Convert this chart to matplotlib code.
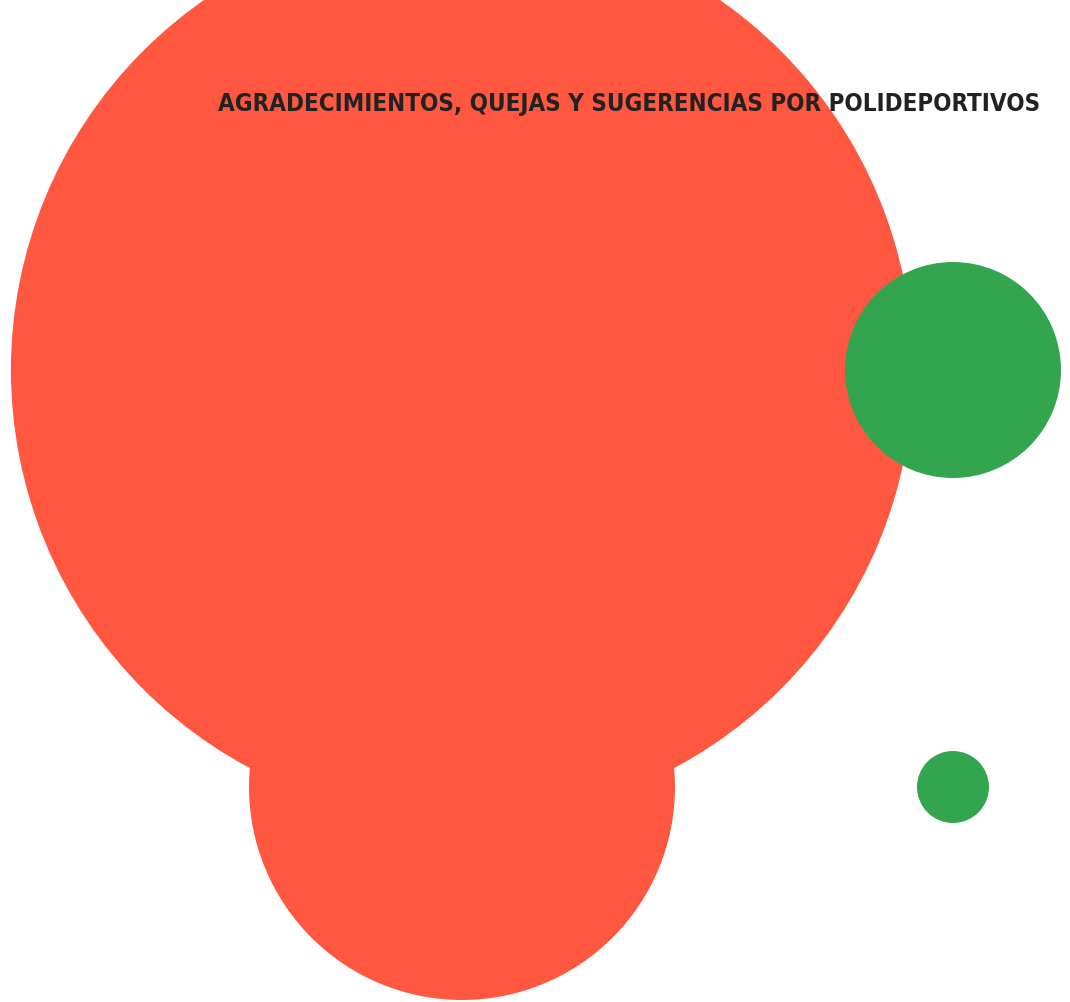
import matplotlib.pyplot as plt
import numpy as np

# bubble grid: columns = type, rows = polideportivo
tipos = ['Quejas', 'Agradecimientos']
polideportivos = ['Polideportivo 1', 'Polideportivo 2']
quejas = [157, 35]
agradecimientos = [9, 1]

colores = {'Quejas': '#FF5740', 'Agradecimientos': '#34A54F'}
titulo = 'AGRADECIMIENTOS, QUEJAS Y SUGERENCIAS POR POLIDEPORTIVOS'

W, H, DPI = 1070, 1003, 100
fig = plt.figure(figsize=(W / DPI, H / DPI), dpi=DPI)
ax = fig.add_axes([0, 0, 1, 1])

# column / row spacing in pixels
x0, dx = 462, 491
y0, dy = 371, 417
ax.set_xlim(-x0 / dx, (W - x0) / dx)
ax.set_ylim((H - y0) / dy, -y0 / dy)
ax.axis('off')

# marker area per unit value (smallest bubble -> 36 px radius)
k = (2 * 36 * 72 / DPI) ** 2
for i, (tipo, vals) in enumerate(zip(tipos, [quejas, agradecimientos])):
    xs = np.full(len(vals), i)
    ys = np.arange(len(vals))
    ax.scatter(xs, ys, s=np.array(vals) * k, color=colores[tipo],
               linewidths=0, zorder=2 + i, clip_on=False)

# condensed bold title, right aligned
fig.text(1040 / W, 1 - 103.5 / H, titulo, ha='right', va='center',
         fontsize=17.3, fontweight='bold', color='#222222',
         family='DejaVu Sans', stretch='condensed', zorder=10)

fig.savefig('out.png', dpi=DPI)
